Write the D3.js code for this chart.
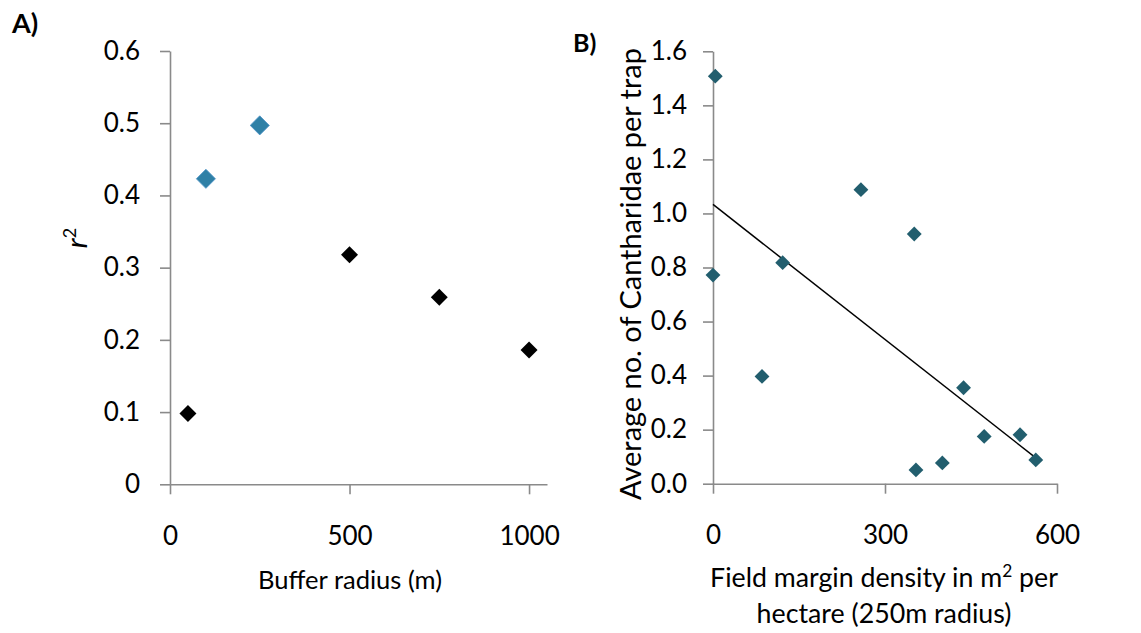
<!DOCTYPE html>
<html>
<head>
<meta charset="utf-8">
<script src="https://cdn.jsdelivr.net/npm/d3@7"></script>
<style>
  html, body { margin: 0; padding: 0; background: #ffffff; }
  svg { display: block; }
  text { font-family: Lato, "Open Sans", sans-serif; fill: #000; }
</style>
</head>
<body>
<svg id="chart" width="1141" height="633"></svg>
<script>
// Panel A: coefficient of determination by buffer radius
const radiusA = [50, 100, 250, 500, 750, 1000];
const r2A = [0.098, 0.423, 0.497, 0.318, 0.259, 0.186];
const significantA = [false, true, true, false, false, false];
const xTicksA = [0, 500, 1000];
const yTicksA = [0, 0.1, 0.2, 0.3, 0.4, 0.5, 0.6];

// Panel B: Cantharidae per trap against field margin density
const marginB = [4, 0, 121.5, 258, 351, 85.5, 354, 400, 437, 473, 535.5, 563];
const beetlesB = [1.508, 0.772, 0.818, 1.088, 0.924, 0.397, 0.051, 0.077, 0.355, 0.175, 0.181, 0.088];
const xTicksB = [0, 300, 600];
const yTicksB = [0, 0.2, 0.4, 0.6, 0.8, 1.0, 1.2, 1.4, 1.6];

const svg = d3.select("#chart");
const AXIS = "#8a8a8a";
const TICK_FONT = 26;

function styleAxis(g) {
  g.select(".domain").attr("stroke", AXIS).attr("stroke-width", 1.6);
  g.selectAll(".tick line").attr("stroke", AXIS).attr("stroke-width", 1.6);
  g.selectAll(".tick text")
    .style("font-family", "Lato, 'Open Sans', sans-serif")
    .style("font-size", TICK_FONT + "px")
    .attr("fill", "#000");
}

// scale a title's font so its rendered length equals the given width
function fitWidth(sel, width) {
  const base = 24;
  sel.style("font-size", base + "px");
  const len = sel.node().getComputedTextLength();
  sel.style("font-size", (base * width / len).toFixed(2) + "px");
  return sel;
}

function diamond(side) {
  return d3.symbol().type(d3.symbolSquare).size(side * side)();
}

// ---------- Panel A ----------
const xA = d3.scaleLinear().domain([0, 1050]).range([170, 547]);
const yA = d3.scaleLinear().domain([0, 0.6]).range([484.3, 51]);

svg.append("g")
  .attr("transform", `translate(0,${yA(0)})`)
  .call(d3.axisBottom(xA).tickValues(xTicksA).tickSize(10).tickSizeOuter(0)
    .tickPadding(32).tickFormat(d3.format("d")))
  .call(styleAxis);

svg.append("g")
  .attr("transform", `translate(${xA(0)},0)`)
  .call(d3.axisLeft(yA).tickValues(yTicksA).tickSize(10).tickSizeOuter(0)
    .tickPadding(20).tickFormat(d => d === 0 ? "0" : d3.format(".1f")(d)))
  .call(styleAxis);

const ptsA = radiusA.map((x, i) => ({ x, y: r2A[i], sig: significantA[i] }));
svg.append("g").selectAll("path")
  .data(ptsA)
  .join("path")
  .attr("d", d => diamond(d.sig ? 13.5 : 12))
  .attr("transform", d => `translate(${xA(d.x)},${yA(d.y)}) rotate(45)`)
  .attr("fill", d => d.sig ? "#2f80a6" : "#000")
  .attr("stroke", d => d.sig ? "#4f93c8" : "none")
  .attr("stroke-width", 0.8);

svg.append("text")
  .attr("x", 12).attr("y", 33)
  .style("font-size", "27px").style("font-weight", "bold")
  .text("A)");

svg.append("text")
  .attr("transform", "translate(87,238) rotate(-90)")
  .attr("text-anchor", "middle")
  .style("font-size", "29px")
  .call(t => {
    t.append("tspan").style("font-style", "italic").text("r");
    t.append("tspan").attr("dy", "-0.6em").style("font-size", "0.62em").text("2");
  });

svg.append("text")
  .attr("x", 350).attr("y", 589)
  .attr("text-anchor", "middle")
  .text("Buffer radius (m)")
  .call(fitWidth, 184);

// ---------- Panel B ----------
const xB = d3.scaleLinear().domain([0, 600]).range([713, 1057]);
const yB = d3.scaleLinear().domain([0, 1.6]).range([483.7, 51.3]);

svg.append("g")
  .attr("transform", `translate(0,${yB(0)})`)
  .call(d3.axisBottom(xB).tickValues(xTicksB).tickSize(10).tickSizeOuter(0)
    .tickPadding(32).tickFormat(d3.format("d")))
  .call(styleAxis);

svg.append("g")
  .attr("transform", `translate(${xB(0)},0)`)
  .call(d3.axisLeft(yB).tickValues(yTicksB).tickSize(10).tickSizeOuter(0)
    .tickPadding(16).tickFormat(d3.format(".1f")))
  .call(styleAxis);

// least-squares trend line over the observed margin range
const mx = d3.mean(marginB), my = d3.mean(beetlesB);
const sxy = d3.sum(marginB, (x, i) => (x - mx) * (beetlesB[i] - my));
const sxx = d3.sum(marginB, x => (x - mx) * (x - mx));
const slope = sxy / sxx, intercept = my - slope * mx;
const xExt = d3.extent(marginB);

svg.append("line")
  .attr("x1", xB(xExt[0])).attr("y1", yB(intercept + slope * xExt[0]))
  .attr("x2", xB(xExt[1])).attr("y2", yB(intercept + slope * xExt[1]))
  .attr("stroke", "#000").attr("stroke-width", 1.5);

const ptsB = marginB.map((x, i) => ({ x, y: beetlesB[i] }));
svg.append("g").selectAll("path")
  .data(ptsB)
  .join("path")
  .attr("d", diamond(10.5))
  .attr("transform", d => `translate(${xB(d.x)},${yB(d.y)}) rotate(45)`)
  .attr("fill", "#225e6e");

svg.append("text")
  .attr("x", 573).attr("y", 52)
  .style("font-size", "25px").style("font-weight", "bold")
  .text("B)");

svg.append("text")
  .attr("transform", "translate(641,274) rotate(-90)")
  .attr("text-anchor", "middle")
  .text("Average no. of Cantharidae per trap")
  .call(fitWidth, 452);

// superscript offsets: the "2" shifts in its own (0.65em) units, " per" shifts back in parent units
svg.append("text")
  .attr("x", 884).attr("y", 587)
  .attr("text-anchor", "middle")
  .call(t => {
    t.append("tspan").text("Field margin density in m");
    t.append("tspan").attr("dy", "-0.6em").style("font-size", "0.65em").text("2");
    t.append("tspan").attr("dy", "0.39em").text(" per");
  })
  .call(fitWidth, 348);

svg.append("text")
  .attr("x", 884).attr("y", 623)
  .attr("text-anchor", "middle")
  .text("hectare (250m radius)")
  .call(fitWidth, 255);
</script>
</body>
</html>
